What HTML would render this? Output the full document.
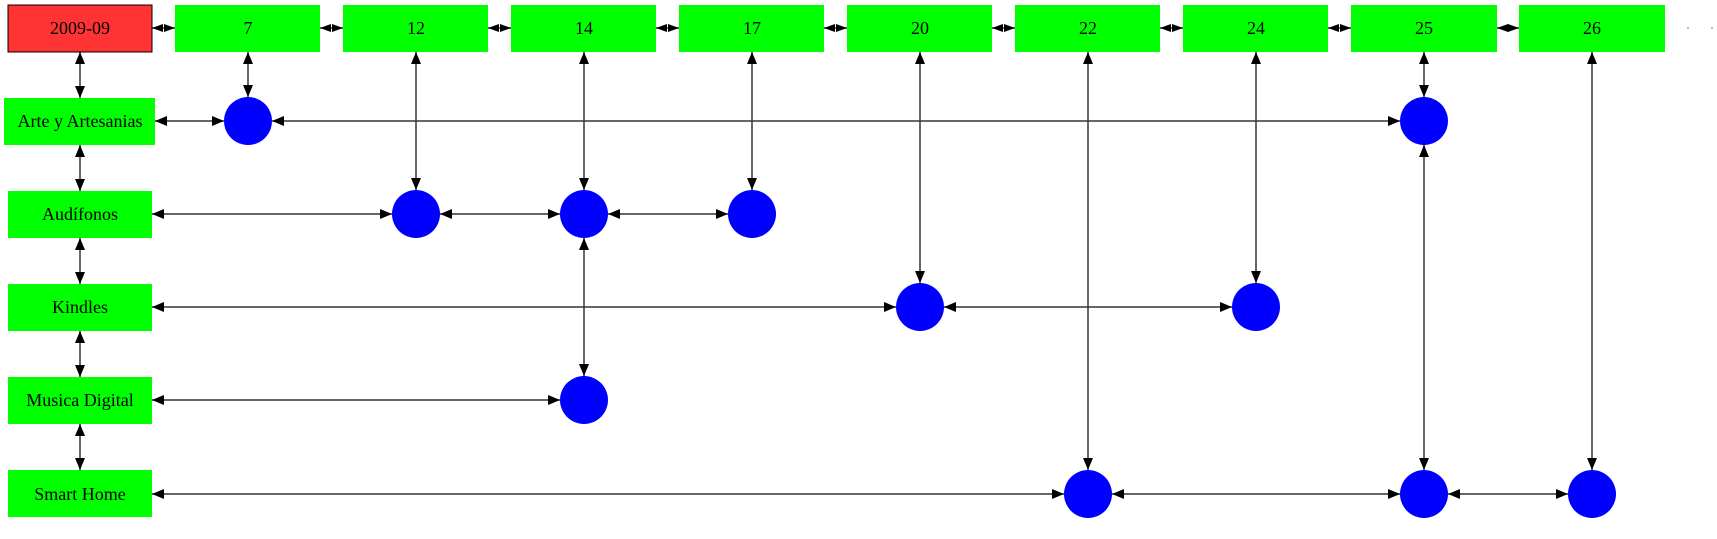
<!DOCTYPE html>
<html><head><meta charset="utf-8"><style>
html,body{margin:0;padding:0;background:#fff;}
svg{display:block;}
text{font-family:"Liberation Serif",serif;font-size:18px;text-anchor:middle;dominant-baseline:central;fill:#000;}
</style></head><body>
<svg width="1717" height="539" viewBox="0 0 1717 539" xmlns="http://www.w3.org/2000/svg">
<defs>
<marker id="a" markerUnits="userSpaceOnUse" markerWidth="12" markerHeight="10" refX="12" refY="5" orient="auto-start-reverse"><path d="M0,0 L12,5 L0,10 Z" fill="#000"/></marker>
<marker id="s" markerUnits="userSpaceOnUse" markerWidth="11" markerHeight="8" refX="11" refY="4" orient="auto-start-reverse"><path d="M0,0 L11,4 L0,8 Z" fill="#000"/></marker>
</defs>
<g stroke="#333" stroke-width="1.5" fill="none">
<line x1="152" y1="28" x2="175" y2="28" marker-start="url(#s)" marker-end="url(#s)"/>
<line x1="320" y1="28" x2="343" y2="28" marker-start="url(#s)" marker-end="url(#s)"/>
<line x1="488" y1="28" x2="511" y2="28" marker-start="url(#s)" marker-end="url(#s)"/>
<line x1="656" y1="28" x2="679" y2="28" marker-start="url(#s)" marker-end="url(#s)"/>
<line x1="824" y1="28" x2="847" y2="28" marker-start="url(#s)" marker-end="url(#s)"/>
<line x1="992" y1="28" x2="1015" y2="28" marker-start="url(#s)" marker-end="url(#s)"/>
<line x1="1160" y1="28" x2="1183" y2="28" marker-start="url(#s)" marker-end="url(#s)"/>
<line x1="1328" y1="28" x2="1351" y2="28" marker-start="url(#s)" marker-end="url(#s)"/>
<line x1="1497" y1="28" x2="1519" y2="28" marker-start="url(#s)" marker-end="url(#s)"/>
<line x1="80" y1="52" x2="80" y2="98" marker-start="url(#a)" marker-end="url(#a)"/>
<line x1="80" y1="145" x2="80" y2="191" marker-start="url(#a)" marker-end="url(#a)"/>
<line x1="80" y1="238" x2="80" y2="284" marker-start="url(#a)" marker-end="url(#a)"/>
<line x1="80" y1="331" x2="80" y2="377" marker-start="url(#a)" marker-end="url(#a)"/>
<line x1="80" y1="424" x2="80" y2="470" marker-start="url(#a)" marker-end="url(#a)"/>
<line x1="248" y1="52" x2="248" y2="97" marker-start="url(#a)" marker-end="url(#a)"/>
<line x1="416" y1="52" x2="416" y2="190" marker-start="url(#a)" marker-end="url(#a)"/>
<line x1="584" y1="52" x2="584" y2="190" marker-start="url(#a)" marker-end="url(#a)"/>
<line x1="584" y1="238" x2="584" y2="376" marker-start="url(#a)" marker-end="url(#a)"/>
<line x1="752" y1="52" x2="752" y2="190" marker-start="url(#a)" marker-end="url(#a)"/>
<line x1="920" y1="52" x2="920" y2="283" marker-start="url(#a)" marker-end="url(#a)"/>
<line x1="1088" y1="52" x2="1088" y2="470" marker-start="url(#a)" marker-end="url(#a)"/>
<line x1="1256" y1="52" x2="1256" y2="283" marker-start="url(#a)" marker-end="url(#a)"/>
<line x1="1424" y1="52" x2="1424" y2="97" marker-start="url(#a)" marker-end="url(#a)"/>
<line x1="1424" y1="145" x2="1424" y2="470" marker-start="url(#a)" marker-end="url(#a)"/>
<line x1="1592" y1="52" x2="1592" y2="470" marker-start="url(#a)" marker-end="url(#a)"/>
<line x1="155" y1="121" x2="224" y2="121" marker-start="url(#a)" marker-end="url(#a)"/>
<line x1="272" y1="121" x2="1400" y2="121" marker-start="url(#a)" marker-end="url(#a)"/>
<line x1="152" y1="214" x2="392" y2="214" marker-start="url(#a)" marker-end="url(#a)"/>
<line x1="440" y1="214" x2="560" y2="214" marker-start="url(#a)" marker-end="url(#a)"/>
<line x1="608" y1="214" x2="728" y2="214" marker-start="url(#a)" marker-end="url(#a)"/>
<line x1="152" y1="307" x2="896" y2="307" marker-start="url(#a)" marker-end="url(#a)"/>
<line x1="944" y1="307" x2="1232" y2="307" marker-start="url(#a)" marker-end="url(#a)"/>
<line x1="152" y1="400" x2="560" y2="400" marker-start="url(#a)" marker-end="url(#a)"/>
<line x1="152" y1="494" x2="1064" y2="494" marker-start="url(#a)" marker-end="url(#a)"/>
<line x1="1112" y1="494" x2="1400" y2="494" marker-start="url(#a)" marker-end="url(#a)"/>
<line x1="1448" y1="494" x2="1568" y2="494" marker-start="url(#a)" marker-end="url(#a)"/>
</g>
<rect x="8" y="5" width="144" height="47" fill="#ff3333" stroke="#000" stroke-width="1"/>
<text x="80" y="28">2009-09</text>
<g fill="#00ff00">
<rect x="175" y="5" width="145" height="47"/><rect x="343" y="5" width="145" height="47"/>
<rect x="511" y="5" width="145" height="47"/><rect x="679" y="5" width="145" height="47"/>
<rect x="847" y="5" width="145" height="47"/><rect x="1015" y="5" width="145" height="47"/>
<rect x="1183" y="5" width="145" height="47"/><rect x="1351" y="5" width="146" height="47"/>
<rect x="1519" y="5" width="146" height="47"/>
<rect x="4" y="98" width="151" height="47"/>
<rect x="8" y="191" width="144" height="47"/>
<rect x="8" y="284" width="144" height="47"/>
<rect x="8" y="377" width="144" height="47"/>
<rect x="8" y="470" width="144" height="47"/>
</g>
<text x="248" y="28">7</text><text x="416" y="28">12</text><text x="584" y="28">14</text>
<text x="752" y="28">17</text><text x="920" y="28">20</text><text x="1088" y="28">22</text>
<text x="1256" y="28">24</text><text x="1424" y="28">25</text><text x="1592" y="28">26</text>
<text x="80" y="121">Arte y Artesanias</text>
<text x="80" y="214">Audífonos</text>
<text x="80" y="307">Kindles</text>
<text x="80" y="400">Musica Digital</text>
<text x="80" y="494">Smart Home</text>
<circle cx="1688" cy="28" r="0.8" fill="#666"/><circle cx="1712" cy="28" r="0.8" fill="#666"/>
<g fill="#0000ff">
<circle cx="248" cy="121" r="24"/><circle cx="1424" cy="121" r="24"/>
<circle cx="416" cy="214" r="24"/><circle cx="584" cy="214" r="24"/><circle cx="752" cy="214" r="24"/>
<circle cx="920" cy="307" r="24"/><circle cx="1256" cy="307" r="24"/>
<circle cx="584" cy="400" r="24"/>
<circle cx="1088" cy="494" r="24"/><circle cx="1424" cy="494" r="24"/><circle cx="1592" cy="494" r="24"/>
</g>
</svg>
</body></html>
